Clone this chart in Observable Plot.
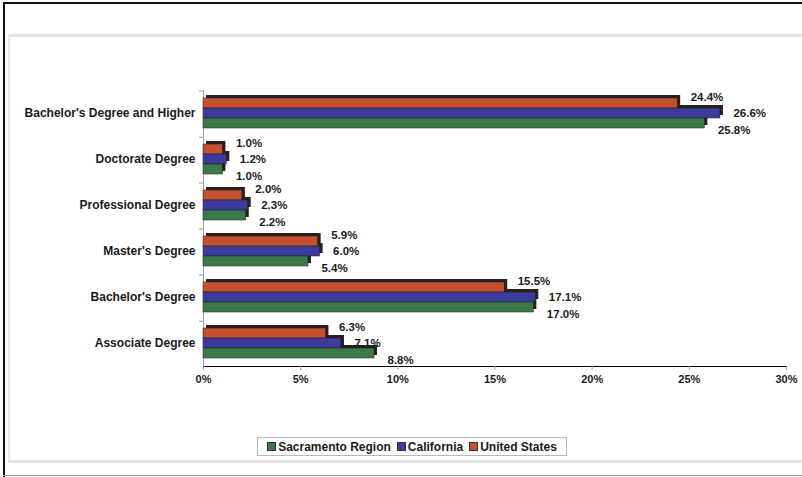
<!DOCTYPE html>
<html>
<head>
<meta charset="utf-8">
<script src="https://cdn.jsdelivr.net/npm/d3@7"></script>
<script src="https://cdn.jsdelivr.net/npm/@observablehq/plot@0.6"></script>
<style>
  html, body { margin: 0; padding: 0; background: #fff; }
  #wrap { position: relative; width: 802px; height: 477px; overflow: hidden; font-family: "Liberation Sans", Arial, sans-serif; }
  #wrap svg { font-family: "Liberation Sans", Arial, sans-serif; font-weight: bold; }
  #wrap svg [aria-label*="axis"] { color: #a0a0a0; }
  #wrap svg [aria-label*="axis"] text { fill: #1a1a1a; }
  #wrap svg [aria-label^="fy-axis"] text { font-size: 12px; }
  .deco { position: absolute; }
  #legend { position: absolute; left: 257px; top: 437px; width: 308px; height: 17px; border: 1px solid #b8b8b8;
    display: flex; align-items: center; justify-content: center; gap: 6px; font-weight: bold; font-size: 12px; color: #1a1a1a; background: #fff; white-space: nowrap; }
  #legend span.sw { display: inline-block; width: 7px; height: 7px; margin-right: 2px; border: 1px solid #333; vertical-align: 0px; }
</style>
</head>
<body>
<div id="wrap">
  <div id="chart"></div>
  <div class="deco" style="left:3px;top:2px;width:2px;height:475px;background:#111"></div>
  <div class="deco" style="left:3px;top:2px;width:799px;height:2px;background:#111"></div>
  <div class="deco" style="left:3px;top:475px;width:799px;height:1px;background:#999"></div>
  <div class="deco" style="left:8px;top:34px;width:794px;height:3px;background:#e2e2e2"></div>
  <div class="deco" style="left:8px;top:34px;width:2px;height:428px;background:#ececec"></div>
  <div class="deco" style="left:8px;top:460px;width:794px;height:3px;background:#e2e2e2"></div>
  <div id="legend"></div>
</div>
<script>
const categories = [
  "Bachelor's Degree and Higher",
  "Doctorate Degree",
  "Professional Degree",
  "Master's Degree",
  "Bachelor's Degree",
  "Associate Degree"
];
const seriesNames = ["United States", "California", "Sacramento Region"];
const unitedStates     = [24.4, 1.0, 2.0, 5.9, 15.5, 6.3];
const california       = [26.6, 1.2, 2.3, 6.0, 17.1, 7.1];
const sacramentoRegion = [25.8, 1.0, 2.2, 5.4, 17.0, 8.8];
const xTicks = [0, 5, 10, 15, 20, 25, 30];
const colors = ["#c4502f", "#3c3c9c", "#3b7a48"];
const legendOrder = ["Sacramento Region", "California", "United States"];

const seriesValues = [unitedStates, california, sacramentoRegion];
const rows = seriesValues.map((vals, si) =>
  categories.map((c, i) => ({cat: c, series: seriesNames[si], value: vals[i]}))
);
const data = rows.flat();

const paddingOuter = 0.62;
const facetH = (477 - 87 - 109) / categories.length;
const step = facetH / (seriesNames.length + 2 * paddingOuter);
const topOffset = step / 2 + paddingOuter * step;

const labelDy = [-6, 0, 7];

const chart = Plot.plot({
  width: 802,
  height: 477,
  marginLeft: 203,
  marginRight: 16,
  marginTop: 87,
  marginBottom: 109,
  style: {fontSize: "11px", background: "transparent", overflow: "visible"},
  fy: {domain: categories, padding: 0, tickSize: 0, tickPadding: 8, label: null},
  y: {domain: seriesNames, paddingInner: 0, paddingOuter: paddingOuter, axis: null},
  x: {domain: [0, 30], ticks: xTicks, tickFormat: d => d + "%", label: null, tickSize: 4, tickPadding: 5, line: true},
  color: {domain: seriesNames, range: colors},
  marks: [
    Plot.ruleX([0], {stroke: "#a0a0a0"}),
    Plot.ruleY(rows[0], {fy: "cat", y: "series", x1: 0, x2: 0, insetLeft: -4, dy: -topOffset, stroke: "#a0a0a0"}),
    Plot.barX(data, {fy: "cat", y: "series", x: "value", fill: "#2a1e1e", dx: 3, dy: -3}),
    Plot.barX(data, {fy: "cat", y: "series", x: "value", fill: "series", stroke: "#1e1e1e", strokeWidth: 0.5}),
    ...rows.map((r, si) => Plot.text(r, {
      fy: "cat", y: "series", x: "value",
      text: d => d.value.toFixed(1) + "%",
      textAnchor: "start", dx: 13, dy: labelDy[si],
      fill: "#1a1a1a", fontSize: 11.5, fontWeight: "bold"
    }))
  ]
});
document.getElementById("chart").appendChild(chart);

const legend = document.getElementById("legend");
legendOrder.forEach(name => {
  const item = document.createElement("span");
  const sw = document.createElement("span");
  sw.className = "sw";
  sw.style.background = colors[seriesNames.indexOf(name)];
  item.appendChild(sw);
  item.appendChild(document.createTextNode(name));
  legend.appendChild(item);
});
</script>
</body>
</html>
